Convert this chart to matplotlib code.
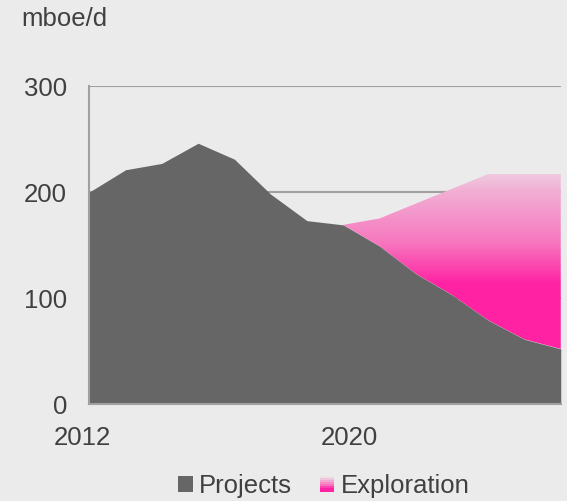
import numpy as np
import matplotlib
matplotlib.use('Agg')
import matplotlib.pyplot as plt
from matplotlib.colors import LinearSegmentedColormap
from matplotlib.patches import Rectangle
from matplotlib.legend_handler import HandlerBase
from matplotlib.transforms import ScaledTranslation

# data
years = np.arange(2012, 2026)
projects = [200, 221, 227, 246, 231, 198, 173, 169, 149, 123, 103, 79, 61, 52]
exploration = [0, 0, 0, 0, 0, 0, 0, 0, 26, 66, 100, 138, 156, 165]
tick_years = [2012, 2020]
y_ticks = [0, 100, 200, 300]

bg = '#ebebeb'
txt = '#404040'
grey_line = '#a0a0a0'
proj_col = '#666666'
pink = '#ff22a2'

plt.rcParams['font.family'] = ['Liberation Sans', 'DejaVu Sans']

# pink fades to background towards the top
grad_cmap = LinearSegmentedColormap.from_list(
    'expl', [(0.0, pink), (0.46, pink), (0.62, '#f777bf'),
             (0.82, '#f1b0d5'), (0.94, '#ede0e8'), (1.0, '#ebe9ea')])


class GradientHandler(HandlerBase):
    def create_artists(self, legend, orig_handle, xdescent, ydescent,
                       width, height, fontsize, trans):
        n = 8
        out = []
        for k in range(n):
            c = grad_cmap(0.3 + 0.7 * (k + 0.5) / n)
            r = Rectangle((-xdescent, -ydescent + height * k / n), width,
                          height / n + 0.2, facecolor=c, edgecolor='none',
                          transform=trans)
            out.append(r)
        return out


fig = plt.figure(figsize=(5.67, 5.01), dpi=100, facecolor=bg)
ax = fig.add_axes([0.1575, 0.1936, 0.8315, 0.6347], facecolor=bg)

proj = np.array(projects, dtype=float)
total = proj + np.array(exploration, dtype=float)

ax.fill_between(years, 0, proj, color=proj_col, lw=0, zorder=3)

mask = years >= 2019
poly = ax.fill_between(years[mask], proj[mask], total[mask],
                       facecolor='none', lw=0, zorder=2)
top = total.max()
grad = np.linspace(0, 1, 256).reshape(-1, 1)
img = ax.imshow(grad, cmap=grad_cmap, origin='lower', aspect='auto',
                extent=[years[0], years[-1], 0, top], zorder=2,
                interpolation='bilinear')
img.set_clip_path(poly.get_paths()[0], transform=ax.transData)

ax.set_xlim(years[0], years[-1])
ax.set_ylim(0, 300)
ax.set_yticks(y_ticks)
ax.set_xticks(tick_years)
ax.set_xticklabels([str(y) for y in tick_years])
ax.yaxis.grid(True, color=grey_line, lw=1.5, zorder=0)
ax.set_axisbelow(True)
ax.tick_params(length=0, labelsize=18.5, colors=txt)
ax.tick_params(axis='y', pad=16)
ax.tick_params(axis='x', pad=16)
for lab, dx in zip(ax.get_xticklabels(), [-7, -30]):
    lab.set_transform(lab.get_transform() +
                      ScaledTranslation(dx / 100, 0, fig.dpi_scale_trans))

for s in ['top', 'right']:
    ax.spines[s].set_visible(False)
for s in ['left', 'bottom']:
    ax.spines[s].set_color(grey_line)
    ax.spines[s].set_linewidth(1.5)
    ax.spines[s].set_zorder(4)

fig.text(0.038, 1 - 19 / 501, 'mboe/d', fontsize=18.5, color=txt,
         va='center', ha='left')

h1 = Rectangle((0, 0), 1, 1, facecolor=proj_col)
h2 = Rectangle((0, 0), 1, 1, facecolor=pink)
fig.legend([h1, h2], ['Projects', 'Exploration'], loc='center',
           bbox_to_anchor=(324 / 567, 1 - 486 / 501), ncol=2, frameon=False,
           fontsize=18.5, labelcolor=txt, handlelength=0.55, handleheight=0.55,
           handletextpad=0.25, columnspacing=1.1, borderpad=0,
           handler_map={h2: GradientHandler()})

fig.savefig('out.png', dpi=100, facecolor=bg)
